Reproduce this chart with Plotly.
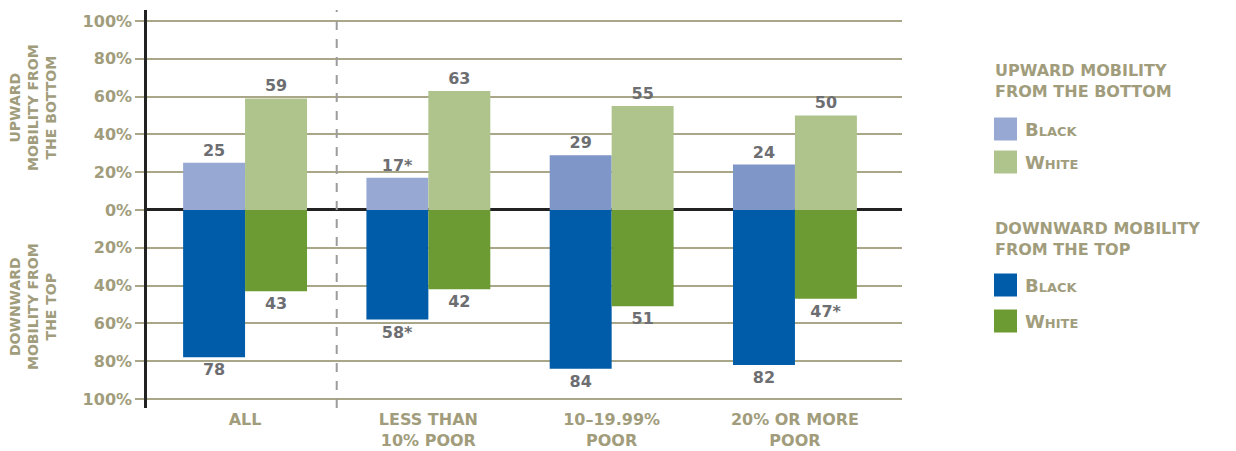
import plotly.graph_objects as go

categories = ["ALL", "LESS THAN<br>10% POOR", "10–19.99%<br>POOR", "20% OR MORE<br>POOR"]
up_black = [25, 17, 29, 24]
up_white = [59, 63, 55, 50]
down_black = [78, 58, 84, 82]
down_white = [43, 42, 51, 47]
up_black_labels = ["25", "17*", "29", "24"]
up_white_labels = ["59", "63", "55", "50"]
down_black_labels = ["78", "58*", "84", "82"]
down_white_labels = ["43", "42", "51", "47*"]
tick_vals = [100, 80, 60, 40, 20, 0, -20, -40, -60, -80, -100]
tick_text = ["100%", "80%", "60%", "40%", "20%", "0%", "20%", "40%", "60%", "80%", "100%"]

C_UPB = "#97A9D3"
C_UPB2 = "#7F96C8"
C_UPW = "#AFC48C"
C_DNB = "#005BA8"
C_DNW = "#6C9A33"
KHAKI = "#A19D7C"
GRID = "#AAA688"
LABEL = "#6D6E71"
FONT = "DejaVu Sans"

up_black_colors = [C_UPB, C_UPB, C_UPB2, C_UPB2]

x = list(range(len(categories)))
W = 0.338

# page body has an 8px default margin: compensate so the chart lands where the reference has it
OFF = 8
FIG_W, FIG_H = 1236 - OFF, 451 - OFF
PL, PR, PT, PB = 147 - OFF, 334, 10 - OFF, 43

fig = go.Figure()
lab_font = dict(family=FONT, size=16, color=LABEL, weight="bold")

fig.add_trace(go.Bar(x=x, y=up_black, width=W, offset=-W, marker=dict(color=up_black_colors, line=dict(width=0)),
                     text=up_black_labels, textposition="outside", textfont=lab_font, cliponaxis=False,
                     showlegend=False, hoverinfo="skip"))
fig.add_trace(go.Bar(x=x, y=up_white, width=W, offset=0, marker=dict(color=C_UPW, line=dict(width=0)),
                     text=up_white_labels, textposition="outside", textfont=lab_font, cliponaxis=False,
                     showlegend=False, hoverinfo="skip"))
fig.add_trace(go.Bar(x=x, y=[-v for v in down_black], width=W, offset=-W, marker=dict(color=C_DNB, line=dict(width=0)),
                     text=down_black_labels, textposition="outside", textfont=lab_font, cliponaxis=False,
                     showlegend=False, hoverinfo="skip"))
fig.add_trace(go.Bar(x=x, y=[-v for v in down_white], width=W, offset=0, marker=dict(color=C_DNW, line=dict(width=0)),
                     text=down_white_labels, textposition="outside", textfont=lab_font, cliponaxis=False,
                     showlegend=False, hoverinfo="skip"))

fig.update_layout(
    width=FIG_W, height=FIG_H,
    margin=dict(l=PL, r=PR, t=PT, b=PB, autoexpand=False),
    paper_bgcolor="white", plot_bgcolor="white",
    barmode="overlay",
    xaxis=dict(range=[-0.535, 3.584], tickvals=x, ticktext=categories, showgrid=False,
               zeroline=False, showline=False, ticks="",
               tickfont=dict(family=FONT, size=16, color=KHAKI, weight="bold"), fixedrange=True),
    yaxis=dict(range=[-104.8, 105.8], tickvals=tick_vals, ticktext=tick_text,
               showgrid=True, gridcolor=GRID, gridwidth=1.5,
               zeroline=True, zerolinecolor="#222222", zerolinewidth=2.5,
               showline=True, linecolor="#222222", linewidth=2.5,
               ticks="outside", ticklen=9, tickcolor=GRID, tickwidth=1.5,
               tickfont=dict(family=FONT, size=16, color=KHAKI, weight="bold"), fixedrange=True),
)

# divider between ALL and the rest
fig.add_shape(type="line", xref="x", yref="paper", x0=0.5, x1=0.5, y0=0, y1=1,
              line=dict(color="#9C9C9C", width=2, dash="dash"))

PW = FIG_W - PL - PR
PH = FIG_H - PT - PB

def px(xp):
    return (xp - OFF - PL) / PW

def py(yp):
    return 1 - (yp - OFF - PT) / PH

# axis side titles
fig.add_annotation(xref="paper", yref="paper", x=px(33), y=py(108), text="UPWARD<br>MOBILITY FROM<br>THE BOTTOM",
                   textangle=-90, showarrow=False, xanchor="center", yanchor="middle",
                   font=dict(family=FONT, size=14, color=KHAKI, weight="bold"))
fig.add_annotation(xref="paper", yref="paper", x=px(33), y=py(307), text="DOWNWARD<br>MOBILITY FROM<br>THE TOP",
                   textangle=-90, showarrow=False, xanchor="center", yanchor="middle",
                   font=dict(family=FONT, size=14, color=KHAKI, weight="bold"))

# custom legend
legend_groups = [
    ("UPWARD MOBILITY<br>FROM THE BOTTOM", 81, [(C_UPB, "Black", 129), (C_UPW, "White", 162)]),
    ("DOWNWARD MOBILITY<br>FROM THE TOP", 239, [(C_DNB, "Black", 285), (C_DNW, "White", 321)]),
]
for title, ty, items in legend_groups:
    fig.add_annotation(xref="paper", yref="paper", x=px(993), y=py(ty), text=title, showarrow=False,
                       xanchor="left", yanchor="middle", align="left",
                       font=dict(family=FONT, size=16, color=KHAKI, weight="bold"))
    for col, name, cy in items:
        fig.add_shape(type="rect", xref="paper", yref="paper", x0=px(994), x1=px(1017),
                      y0=py(cy - 11.5), y1=py(cy + 11.5), fillcolor=col, line=dict(width=0))
        fig.add_annotation(xref="paper", yref="paper", x=px(1023), y=py(cy), text=name, showarrow=False,
                           xanchor="left", yanchor="middle",
                           font=dict(family=FONT, size=18, color=KHAKI, weight="bold", variant="small-caps"))

fig.write_html("out.html")
